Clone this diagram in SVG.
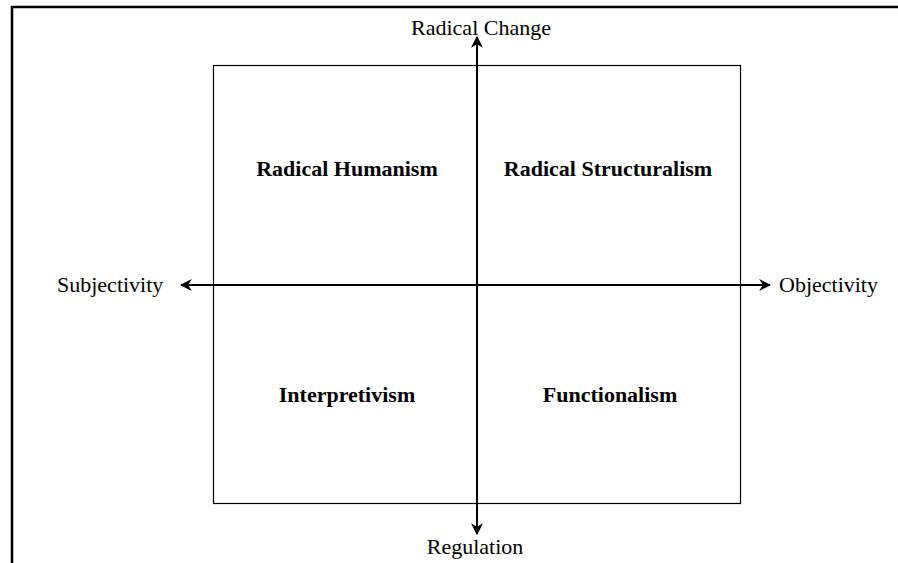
<svg xmlns="http://www.w3.org/2000/svg" width="898" height="563" viewBox="0 0 898 563">
  <style>
    .frame { fill: none; stroke: #000; stroke-width: 2.5; }
    .box { fill: none; stroke: #000; stroke-width: 1.2; }
    .axis { fill: none; stroke: #000; stroke-width: 2; }
    .pole { font-family: "Liberation Serif", "Times New Roman", serif; font-size: 22px; fill: #000; }
    .quad { font-family: "Liberation Serif", "Times New Roman", serif; font-size: 22px; font-weight: bold; fill: #000; text-anchor: middle; }
  </style>
  <defs>
    <marker id="head" viewBox="0 0 10 10" refX="9" refY="5" markerWidth="12" markerHeight="12" markerUnits="userSpaceOnUse" orient="auto-start-reverse">
      <path d="M0,0 L10,5 L0,10 L3,5 Z" fill="#000"/>
    </marker>
  </defs>
  <rect width="898" height="563" fill="#fff"/>

  <!-- page frame: left and top edges -->
  <path class="frame" d="M12,563 V7 H898"/>

  <!-- paradigm square -->
  <rect id="square" class="box" x="213.5" y="65.5" width="527" height="438"/>

  <!-- axes -->
  <g id="connectors">
    <line class="axis" x1="477" y1="285" x2="477" y2="37" marker-end="url(#head)"/>
    <line class="axis" x1="477" y1="285" x2="477" y2="534" marker-end="url(#head)"/>
    <line class="axis" x1="477" y1="285" x2="181" y2="285" marker-end="url(#head)"/>
    <line class="axis" x1="477" y1="285" x2="770" y2="285" marker-end="url(#head)"/>
  </g>

  <!-- axis poles -->
  <g id="pole-radical-change"><text class="pole" x="481" y="35" text-anchor="middle">Radical Change</text></g>
  <g id="pole-regulation"><text class="pole" x="475" y="554" text-anchor="middle">Regulation</text></g>
  <g id="pole-subjectivity"><text class="pole" x="57" y="292">Subjectivity</text></g>
  <g id="pole-objectivity"><text class="pole" x="779" y="292">Objectivity</text></g>

  <!-- quadrants -->
  <g id="radical-humanism"><text class="quad" x="347" y="176">Radical Humanism</text></g>
  <g id="radical-structuralism"><text class="quad" x="608" y="176">Radical Structuralism</text></g>
  <g id="interpretivism"><text class="quad" x="347" y="402">Interpretivism</text></g>
  <g id="functionalism"><text class="quad" x="610" y="402">Functionalism</text></g>
</svg>
